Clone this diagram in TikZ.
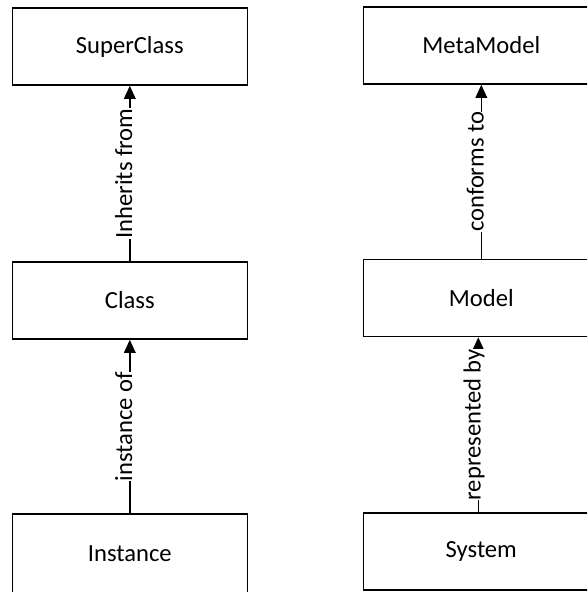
\documentclass[tikz,border=0pt]{standalone}
\usepackage{fontspec}
\setmainfont{Carlito}
\usetikzlibrary{arrows.meta}
\begin{document}
\begin{tikzpicture}[x=1pt,y=-1pt,
  box/.style={draw=black, line width=1.5pt, minimum width=235pt, minimum height=77pt,
              inner sep=0pt, font=\fontsize{24.6}{29}\selectfont},
  rel/.style={-{Triangle[length=13pt,width=11.5pt]}, line width=1.5pt},
  lbl/.style={rotate=90, anchor=mid, fill=white, inner sep=0pt,
              font=\fontsize{24.6}{29}\selectfont}]
\useasboundingbox (0,0) rectangle (587,592);
\clip (0,0) rectangle (587,592);

% class hierarchy column
\node[box] (super) at (129.8,46.5)  {SuperClass};
\node[box] (class) at (129.8,300.5) {Class};
\node[box, minimum height=80pt] (inst) at (129.8,554) {Instance};

% modelling column (runs past the right edge)
\node[box, minimum width=236pt] (meta)  at (481.3,45.5)  {MetaModel};
\node[box, minimum width=236pt] (model) at (481.3,298)   {Model};
\node[box, minimum width=236pt] (sys)   at (481.3,551.5) {System};

% relations
\draw[rel] (class) -- node[lbl] {Inherits from} (super);
\draw[rel] (inst) -- node[lbl] {instance of} (class);
\draw[rel] (model) -- node[lbl] {conforms to} (meta);
\draw[rel] ([xshift=-3pt]sys.north) -- node[lbl] {represented by} ([xshift=-3pt]model.south);
\end{tikzpicture}
\end{document}
